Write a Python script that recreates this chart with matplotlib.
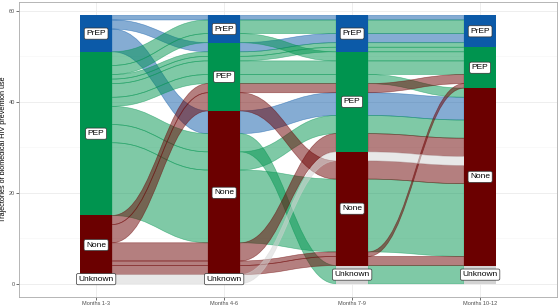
import numpy as np
import matplotlib.pyplot as plt
from matplotlib.path import Path
from matplotlib.patches import PathPatch, Rectangle

plt.rcParams['font.family'] = ['Liberation Sans', 'DejaVu Sans']

axis_labels = ["Months 1-3", "Months 4-6", "Months 7-9", "Months 10-12"]
levels = ["PrEP", "PEP", "None", "Unknown"]
level_colors = ["#0c5aa8", "#00944f", "#6b0000", "#d3d3d3"]

# one entry per distinct trajectory (status in each period) and how many people follow it
m1_3 = ["PrEP", "PrEP", "PrEP",
        "PEP", "PEP", "PEP", "PEP", "PEP", "PEP", "PEP", "PEP", "PEP",
        "None", "None", "None", "None", "None",
        "Unknown"]
m4_6 = ["PrEP", "PEP", "None",
        "PrEP", "PrEP", "PEP", "PEP", "PEP", "PEP", "None", "None", "None",
        "PEP", "PEP", "None", "None", "None",
        "Unknown"]
m7_9 = ["PrEP", "PrEP", "PEP",
        "PrEP", "PEP", "PrEP", "PrEP", "PEP", "PEP", "PEP", "None", "Unknown",
        "PEP", "None", "PEP", "None", "None",
        "None"]
m10_12 = ["PrEP", "PrEP", "None",
          "PrEP", "PEP", "PrEP", "PEP", "PEP", "None", "None", "None", "Unknown",
          "PEP", "None", "None", "PEP", "None",
          "None"]
n_people = [1, 2, 5,
            3, 2, 1, 1, 3, 2, 4, 16, 4,
            2, 4, 4, 1, 2,
            2]

traj = list(zip(m1_3, m4_6, m7_9, m10_12))
lev = {s: k for k, s in enumerate(levels)}
sort_rank = {"Unknown": 0, "PrEP": 1, "PEP": 2, "None": 3}
total = sum(n_people)
n_ax = len(axis_labels)
w = 0.25

# lode ordering inside strata: own axis, then leftward, then rightward
ytop = np.zeros((len(traj), n_ax))
for i in range(n_ax):
    guide = list(range(i - 1, -1, -1)) + list(range(i + 1, n_ax))
    order = sorted(range(len(traj)),
                   key=lambda a: (lev[traj[a][i]],) + tuple(sort_rank[traj[a][j]] for j in guide))
    top = total
    for a in order:
        ytop[a, i] = top
        top -= n_people[a]

fig = plt.figure(figsize=(5.6, 3.06), dpi=100)
ax = fig.add_axes([0.0345, 0.029, 0.96, 0.9645])


def band(x0, x1, t0, t1, n):
    k = (x1 - x0) * 0.45
    verts = [(x0, t0), (x0 + k, t0), (x1 - k, t1), (x1, t1),
             (x1, t1 - n), (x1 - k, t1 - n), (x0 + k, t0 - n), (x0, t0 - n), (x0, t0)]
    codes = [Path.MOVETO, Path.CURVE4, Path.CURVE4, Path.CURVE4,
             Path.LINETO, Path.CURVE4, Path.CURVE4, Path.CURVE4, Path.CLOSEPOLY]
    return Path(verts, codes)


for a, t in enumerate(traj):
    col = level_colors[lev[t[0]]]
    for i in range(n_ax - 1):
        p = band(i + 1 + w / 2, i + 2 - w / 2, ytop[a, i], ytop[a, i + 1], n_people[a])
        ax.add_patch(PathPatch(p, fc=col, ec=col, alpha=0.5, lw=0.5))

# strata
for i in range(n_ax):
    top = total
    for s in levels:
        cnt = sum(n for t, n in zip(traj, n_people) if t[i] == s)
        if cnt == 0:
            continue
        ax.add_patch(Rectangle((i + 1 - w / 2, top - cnt), w, cnt,
                               fc=level_colors[lev[s]], ec='none', zorder=3))
        ax.text(i + 1, top - cnt / 2, s, ha='center', va='center', fontsize=6, zorder=4,
                bbox=dict(boxstyle='round,pad=0.25,rounding_size=0.2', fc='white',
                          ec='#333333', lw=0.5))
        top -= cnt

ax.set_xlim(0.4, 4.6)
ax.set_ylim(-0.05 * total, total * 1.05)
ax.set_xticks(range(1, n_ax + 1))
ax.set_xticklabels(axis_labels)
ax.set_yticks([0, 20, 40, 60])
ax.set_yticks([10, 30, 50], minor=True)
ax.tick_params(axis='both', labelsize=4, length=2, width=0.5, colors='#333333',
               labelcolor='#4d4d4d', pad=1)
ax.tick_params(axis='both', which='minor', length=0)
ax.grid(True, which='major', color='#ebebeb', lw=0.6)
ax.grid(True, which='minor', color='#f5f5f5', lw=0.4)
ax.set_axisbelow(True)
for sp in ax.spines.values():
    sp.set_color('#aaaaaa')
    sp.set_linewidth(0.6)
ax.set_ylabel("Trajectories of biomedical HIV prevention use", fontsize=5.2, labelpad=1)

fig.savefig("out.png", dpi=100)
